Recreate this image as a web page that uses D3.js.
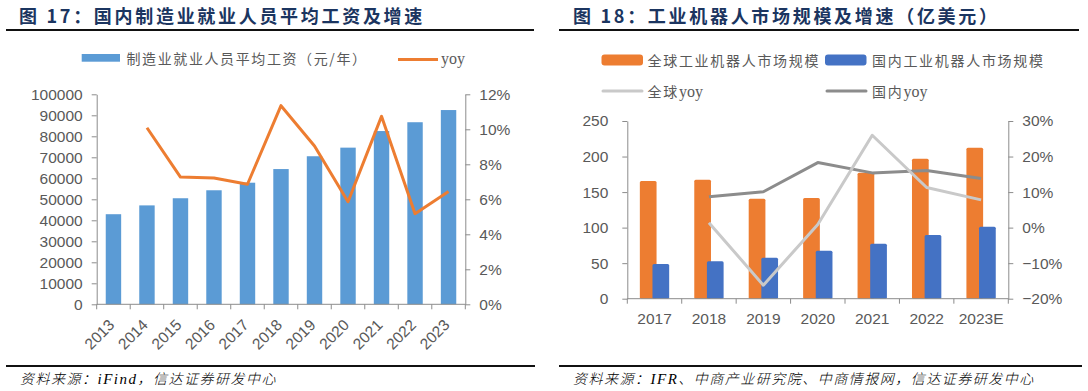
<!DOCTYPE html>
<html><head><meta charset="utf-8">
<script src="https://cdn.jsdelivr.net/npm/d3@7/dist/d3.min.js"></script>
<style>
body{margin:0;background:#fff;}
svg{display:block;}
</style></head>
<body><svg id="c" width="1088" height="391"></svg>
<script>
// ---------- data: left chart ----------
const wageYears = ["2013","2014","2015","2016","2017","2018","2019","2020","2021","2022","2023"];
const wageValues = [42900,47100,50500,54300,57900,64400,70500,74600,82500,86700,92500];
const wageYoy = [null,0.1009,0.0727,0.0722,0.0686,0.1135,0.0905,0.0586,0.1074,0.0518,0.0644];
const wageTicks = [0,10000,20000,30000,40000,50000,60000,70000,80000,90000,100000];
const wageYoyTicks = [0,0.02,0.04,0.06,0.08,0.10,0.12];

// ---------- data: right chart ----------
const robotYears = ["2017","2018","2019","2020","2021","2022","2023E"];
const globalMarket = [165.5,167.4,140.6,141.6,177.2,196.9,212.4];
const domesticMarket = [48.8,52.6,57.7,67.5,77.4,89.6,101.3];
const globalYoy = [null,0.014,-0.162,0.009,0.26,0.113,0.078];
const domesticYoy = [null,0.087,0.101,0.183,0.154,0.161,0.138];
const marketTicks = [0,50,100,150,200,250];
const robotYoyTicks = [-0.2,-0.1,0,0.1,0.2,0.3];

const C = {
  wage:"#5B9BD5", orange:"#ED7D31", blue:"#4472C4", lgrey:"#C9C9C9", dgrey:"#8C8C8C",
  axis:"#8C8C8C", text:"#595959", title:"#1B3560"
};
const NUM = "'Liberation Sans', Arial, sans-serif";
const CJK = "'Noto Sans CJK SC', sans-serif";

const svg = d3.select("#c");

// ---------- headers / footers ----------
function header(x, lx1, lx2, txt){
  svg.append("text").attr("x",x).attr("y",23)
    .attr("font-family",CJK).attr("font-weight",700).attr("font-size",18)
    .attr("letter-spacing","2.7px").attr("fill",C.title).text(txt);
  svg.append("line").attr("x1",lx1).attr("x2",lx2).attr("y1",30).attr("y2",30)
    .attr("stroke","#111").attr("stroke-width",1.8);
}
function footer(x, lx1, lx2, parts){
  svg.append("line").attr("x1",lx1).attr("x2",lx2).attr("y1",366).attr("y2",366)
    .attr("stroke","#111").attr("stroke-width",1.8);
  const t = svg.append("text").attr("x",x).attr("y",384)
    .attr("font-family",CJK).attr("font-style","italic").attr("font-weight",300)
    .attr("font-size",14).attr("letter-spacing","1.5px").attr("fill","#000");
  parts.forEach(p=>{
    const s = t.append("tspan").text(p[0]);
    if(p[1]) s.attr("font-family","'Liberation Serif', serif").attr("font-size",15);
  });
}
header(19, 6, 534, "图 17：国内制造业就业人员平均工资及增速");
header(573, 559, 1079, "图 18：工业机器人市场规模及增速（亿美元）");
footer(20, 6, 535, [["资料来源："],["iFind",true],["，信达证券研发中心"]]);
footer(573, 559, 1082, [["资料来源："],["IFR",true],["、中商产业研究院、中商情报网，信达证券研发中心"]]);

function styleAxis(g){
  g.selectAll("path,line").attr("stroke",C.axis).attr("stroke-width",1);
  g.selectAll("text").attr("fill",C.text).attr("font-family",NUM).attr("font-size",15.5);
}
function catTicks(g, xs, y0){
  const xs2 = xs.domain().map(d=>xs(d)).concat([xs.range()[1]]);
  g.selectAll("line.ct").data(xs2).join("line").attr("class","ct")
    .attr("x1",d=>d).attr("x2",d=>d).attr("y1",y0).attr("y2",y0+5)
    .attr("stroke",C.axis);
  g.append("line").attr("x1",xs.range()[0]).attr("x2",xs.range()[1])
    .attr("y1",y0).attr("y2",y0).attr("stroke",C.axis);
}

// ---------- left chart ----------
{
  const x = d3.scaleBand().domain(wageYears).range([96.7,465.3]);
  const y = d3.scaleLinear().domain([0,100000]).range([304.3,94.3]);
  const y2 = d3.scaleLinear().domain([0,0.12]).range([304.3,94.3]);
  const bw = x.bandwidth()*0.46;

  svg.append("g").selectAll("rect").data(wageValues).join("rect")
    .attr("x",(d,i)=>x(wageYears[i])+x.bandwidth()/2-bw/2)
    .attr("width",bw).attr("y",d=>y(d)).attr("height",d=>y(0)-y(d))
    .attr("fill",C.wage);

  const gl = svg.append("g").attr("transform","translate(96.7,0)")
    .call(d3.axisLeft(y).tickValues(wageTicks).tickSize(5).tickSizeOuter(0).tickPadding(9).tickFormat(d3.format("d")));
  styleAxis(gl);
  const gr = svg.append("g").attr("transform","translate(465.3,0)")
    .call(d3.axisRight(y2).tickValues(wageYoyTicks).tickSize(5).tickSizeOuter(0).tickPadding(9).tickFormat(d3.format(".0%")));
  styleAxis(gr);

  const gx = svg.append("g");
  catTicks(gx, x, 304.3);
  gx.selectAll("text").data(wageYears).join("text")
    .attr("transform",d=>`translate(${x(d)+x.bandwidth()/2+2},326) rotate(-45)`)
    .attr("text-anchor","end").attr("fill",C.text).attr("font-family",NUM).attr("font-size",15.5)
    .text(d=>d);

  const line = d3.line().defined(d=>d[1]!=null)
    .x(d=>x(d[0])+x.bandwidth()/2).y(d=>y2(d[1]));
  svg.append("path").datum(wageYears.map((d,i)=>[d,wageYoy[i]]))
    .attr("d",line).attr("fill","none").attr("stroke",C.orange).attr("stroke-width",3)
    .attr("stroke-linejoin","round");

  // legend
  const lg = svg.append("g").attr("font-family",CJK).attr("font-size",14).attr("fill",C.text);
  lg.append("rect").attr("x",81.7).attr("y",54).attr("width",38.3).attr("height",7.7).attr("fill",C.wage);
  lg.append("text").attr("x",126.5).attr("y",63.5).attr("letter-spacing","1.6px").text("制造业就业人员平均工资（元/年）");
  lg.append("line").attr("x1",398).attr("x2",438).attr("y1",59.5).attr("y2",59.5)
    .attr("stroke",C.orange).attr("stroke-width",3);
  lg.append("text").attr("x",441).attr("y",64).attr("font-family","'Liberation Serif', serif").attr("font-size",16).text("yoy");
}

// ---------- right chart ----------
{
  const x = d3.scaleBand().domain(robotYears).range([627.3,1008.3]);
  const y = d3.scaleLinear().domain([0,250]).range([298.7,121]);
  const y2 = d3.scaleLinear().domain([-0.2,0.3]).range([298.7,121]);
  const bw = x.bandwidth()*0.307;
  const off = x.bandwidth()*0.116;
  const cx = d => x(d)+x.bandwidth()/2;

  svg.append("g").selectAll("rect").data(globalMarket).join("rect")
    .attr("x",(d,i)=>cx(robotYears[i])-off-bw/2).attr("width",bw)
    .attr("y",d=>y(d)).attr("height",d=>y(0)-y(d)).attr("rx",1.5).attr("fill",C.orange);
  svg.append("g").selectAll("rect").data(domesticMarket).join("rect")
    .attr("x",(d,i)=>cx(robotYears[i])+off-bw/2).attr("width",bw)
    .attr("y",d=>y(d)).attr("height",d=>y(0)-y(d)).attr("rx",1.5).attr("fill",C.blue);

  const gl = svg.append("g").attr("transform","translate(627.3,0)")
    .call(d3.axisLeft(y).tickValues(marketTicks).tickSize(5).tickSizeOuter(0).tickPadding(14));
  styleAxis(gl);
  const gr = svg.append("g").attr("transform","translate(1008.3,0)")
    .call(d3.axisRight(y2).tickValues(robotYoyTicks).tickSize(5).tickSizeOuter(0).tickPadding(9).tickFormat(d3.format(".0%")));
  styleAxis(gr);

  const gx = svg.append("g");
  catTicks(gx, x, 298.7);
  gx.selectAll("text").data(robotYears).join("text")
    .attr("x",d=>cx(d)).attr("y",323.5).attr("text-anchor","middle")
    .attr("fill",C.text).attr("font-family",NUM).attr("font-size",15.5).text(d=>d);

  const line = d3.line().defined(d=>d[1]!=null).x(d=>cx(d[0])).y(d=>y2(d[1]));
  svg.append("path").datum(robotYears.map((d,i)=>[d,domesticYoy[i]]))
    .attr("d",line).attr("fill","none").attr("stroke",C.dgrey).attr("stroke-width",3).attr("stroke-linejoin","round");
  svg.append("path").datum(robotYears.map((d,i)=>[d,globalYoy[i]]))
    .attr("d",line).attr("fill","none").attr("stroke",C.lgrey).attr("stroke-width",3).attr("stroke-linejoin","round");

  // legend
  const lg = svg.append("g").attr("font-family",CJK).attr("font-size",14).attr("fill",C.text);
  lg.append("rect").attr("x",601.5).attr("y",54.5).attr("width",41.5).attr("height",11).attr("rx",3).attr("fill",C.orange);
  lg.append("text").attr("x",647.5).attr("y",65.5).attr("letter-spacing","1.7px").text("全球工业机器人市场规模");
  lg.append("rect").attr("x",825).attr("y",54.5).attr("width",41.5).attr("height",11).attr("rx",3).attr("fill",C.blue);
  lg.append("text").attr("x",872).attr("y",65.5).attr("letter-spacing","1.7px").text("国内工业机器人市场规模");
  lg.append("line").attr("x1",603).attr("x2",642).attr("y1",91).attr("y2",91)
    .attr("stroke",C.lgrey).attr("stroke-width",3).attr("stroke-linecap","round");
  const t1 = lg.append("text").attr("x",647.5).attr("y",96.5).attr("letter-spacing","1.7px");
  t1.append("tspan").text("全球");
  t1.append("tspan").attr("font-family","'Liberation Serif', serif").attr("font-size",16).attr("letter-spacing","0px").text("yoy");
  lg.append("line").attr("x1",827).attr("x2",866).attr("y1",91).attr("y2",91)
    .attr("stroke",C.dgrey).attr("stroke-width",3).attr("stroke-linecap","round");
  const t2 = lg.append("text").attr("x",872).attr("y",96.5).attr("letter-spacing","1.7px");
  t2.append("tspan").text("国内");
  t2.append("tspan").attr("font-family","'Liberation Serif', serif").attr("font-size",16).attr("letter-spacing","0px").text("yoy");
}
</script>
</body></html>
